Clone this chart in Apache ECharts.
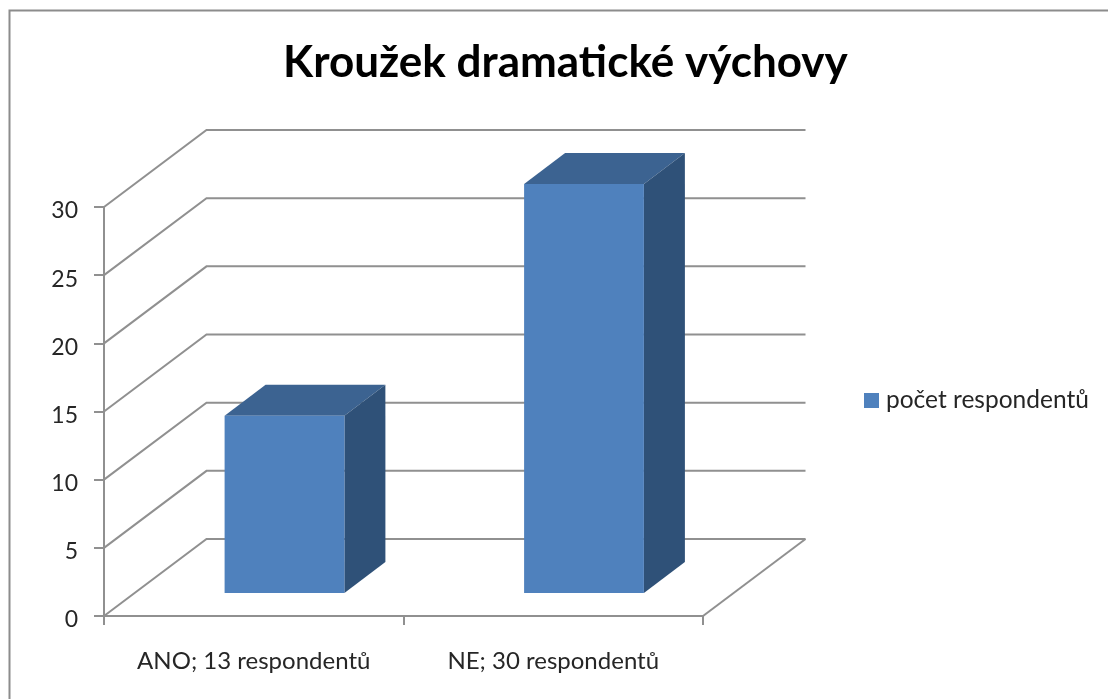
<!DOCTYPE html>
<html>
<head>
<meta charset="utf-8">
<style>
  html, body { margin: 0; padding: 0; background: #fff; }
  #chart { width: 1108px; height: 699px; }
</style>
<script src="https://cdn.jsdelivr.net/npm/echarts@6/dist/echarts.min.js"></script>
</head>
<body>
<div id="chart"></div>
<script>
var chartTitle = 'Kroužek dramatické výchovy';
var seriesName = 'počet respondentů';
var categories = ['ANO; 13 respondentů', 'NE; 30 respondentů'];
var respondents = [13, 30];
var yTicks = [0, 5, 10, 15, 20, 25, 30];

var FONT = 'Lato';
var LINE = '#909090';
// hloubka 3D podlahy v pixelech
var DEPTH_X = 102.5;
var DEPTH_Y = 77;
var INSET = 0.3; // odsazeni sloupce od predni hrany
var BAR_DEPTH = 0.4;
var BAR_WIDTH = 0.4;

function renderWall(params, api) {
    var cs = params.coordSys;
    var y = api.coord([0, api.value(1)])[1];
    var right = cs.x + cs.width;
    var children = [{
        type: 'polyline',
        shape: { points: [[cs.x, y], [cs.x + DEPTH_X, y - DEPTH_Y], [right + DEPTH_X, y - DEPTH_Y]] },
        style: { fill: 'none', stroke: LINE, lineWidth: 2 }
    }];
    if (api.value(1) === 0) {
        children.push({
            type: 'line',
            shape: { x1: right, y1: y, x2: right + DEPTH_X, y2: y - DEPTH_Y },
            style: { stroke: LINE, lineWidth: 2 }
        });
    }
    return { type: 'group', children: children };
}

function renderBar(params, api) {
    var base = api.coord([api.value(0), 0]);
    var top = api.coord([api.value(0), api.value(1)]);
    var w = api.size([1, 0])[0] * BAR_WIDTH;
    var ox = DEPTH_X * INSET;
    var oy = DEPTH_Y * INSET;
    var dx = DEPTH_X * BAR_DEPTH;
    var dy = DEPTH_Y * BAR_DEPTH;
    var x0 = base[0] - w / 2 + ox;
    var x1 = x0 + w;
    var yb = base[1] - oy;
    var yt = top[1] - oy;
    return {
        type: 'group',
        children: [
            { type: 'polygon', shape: { points: [[x0, yt], [x1, yt], [x1 + dx, yt - dy], [x0 + dx, yt - dy]] }, style: { fill: '#3c6391' } },
            { type: 'polygon', shape: { points: [[x1, yb], [x1 + dx, yb - dy], [x1 + dx, yt - dy], [x1, yt]] }, style: { fill: '#2f5178' } },
            { type: 'rect', shape: { x: x0, y: yt, width: w, height: yb - yt }, style: { fill: '#4f81bd' } }
        ]
    };
}

var chart = echarts.init(document.getElementById('chart'));
chart.setOption({
    animation: false,
    backgroundColor: '#fff',
    textStyle: { fontFamily: FONT },
    graphic: [{
        type: 'rect',
        shape: { x: 9.5, y: 10.5, width: 1300, height: 900 },
        style: { fill: 'none', stroke: '#8c8c8c', lineWidth: 2 },
        silent: true
    }],
    title: {
        text: chartTitle,
        left: 283,
        top: 41,
        padding: 0,
        textStyle: { fontFamily: FONT, fontSize: 44, fontWeight: 'bold', color: '#000' }
    },
    legend: {
        data: [seriesName],
        left: 864,
        top: 388,
        padding: 0,
        icon: 'rect',
        itemWidth: 15,
        itemHeight: 15,
        itemGap: 0,
        textStyle: { fontFamily: FONT, fontSize: 24.5, color: '#262626', padding: [0, 0, 0, 2] }
    },
    grid: { left: 104, top: 207, width: 599, height: 409 },
    xAxis: {
        type: 'category',
        data: categories,
        axisLine: { lineStyle: { color: LINE, width: 2 } },
        axisTick: { show: true, length: 9, lineStyle: { color: LINE, width: 2 } },
        axisLabel: { interval: 0, margin: 33, fontFamily: FONT, fontSize: 24, color: '#262626' },
        splitLine: { show: false }
    },
    yAxis: {
        type: 'value',
        min: 0,
        max: 30,
        interval: 5,
        axisLine: { show: true, lineStyle: { color: LINE, width: 2 } },
        axisTick: { show: true, length: 10, lineStyle: { color: LINE, width: 2 } },
        axisLabel: { margin: 26, fontFamily: FONT, fontSize: 23, color: '#262626', verticalAlign: 'top', lineHeight: 8 },
        splitLine: { show: false }
    },
    series: [
        {
            name: 'wall',
            type: 'custom',
            renderItem: renderWall,
            encode: { x: 0, y: 1 },
            data: yTicks.map(function (v) { return [0, v]; }),
            silent: true
        },
        {
            name: seriesName,
            type: 'custom',
            renderItem: renderBar,
            itemStyle: { color: '#4f81bd' },
            encode: { x: 0, y: 1 },
            data: respondents.map(function (v, i) { return [i, v]; })
        }
    ]
});
</script>
</body>
</html>
